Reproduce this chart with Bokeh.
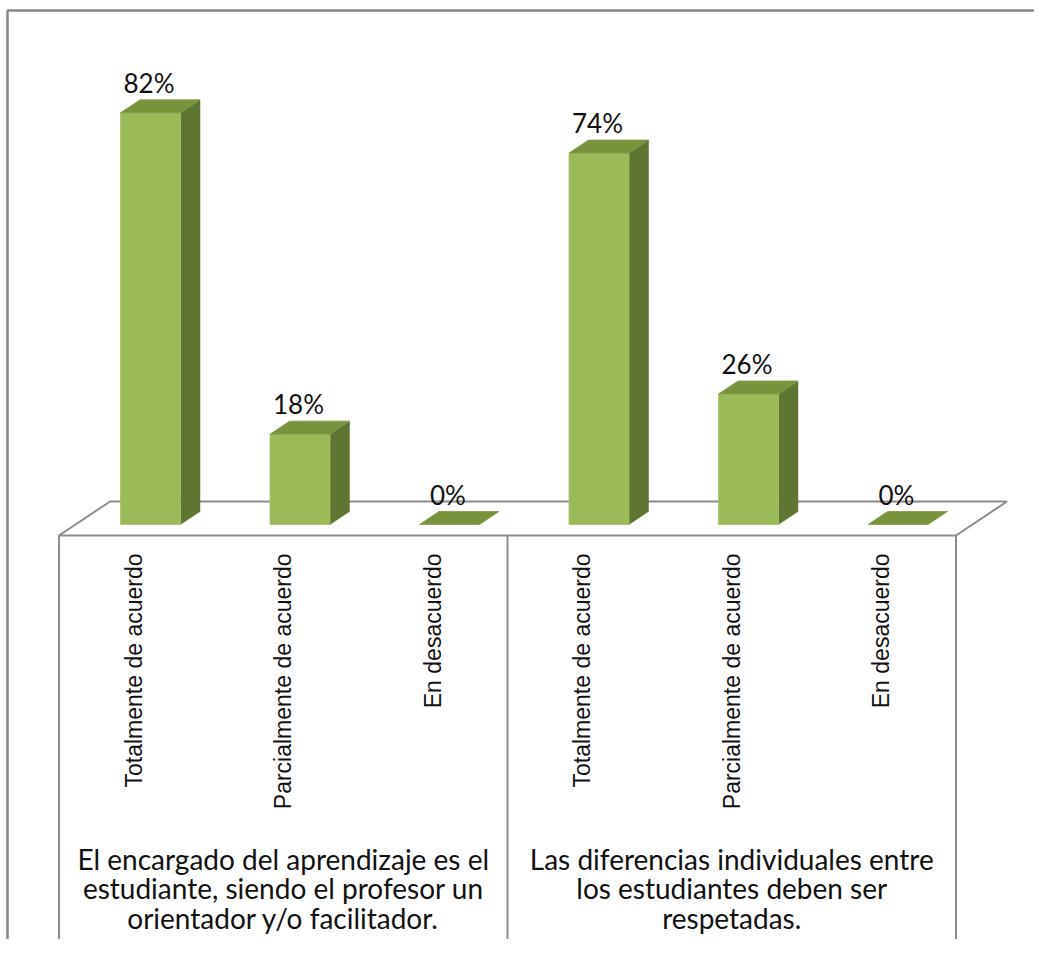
import math
from bokeh.plotting import figure
from bokeh.models import Range1d
from bokeh.core.properties import value
from bokeh.embed import file_html
from bokeh.resources import INLINE

# ---- data ----
categories = ["Totalmente de acuerdo", "Parcialmente de acuerdo", "En desacuerdo",
              "Totalmente de acuerdo", "Parcialmente de acuerdo", "En desacuerdo"]
values = [82, 18, 0, 74, 26, 0]
labels = ["82%", "18%", "0%", "74%", "26%", "0%"]
groups = ["El encargado del aprendizaje es el\nestudiante, siendo el profesor un\norientador y/o facilitador.",
          "Las diferencias individuales entre\nlos estudiantes deben ser\nrespetadas."]
group_size = 3

# ---- layout (pixels) ----
W, H = 1034, 939
STEP = 149.5          # px per category
PXV = 5.02            # px per percent
X0 = 58.5             # px of category start (front plane)
Y0 = 524.0            # px of value 0 (front baseline)

def ux(px):  # pixels -> x units
    return px / STEP

def uy(px):
    return px / PXV

x_start = -X0 / STEP
x_end = (W - X0) / STEP
y_end = Y0 / PXV
y_start = -(H - Y0) / PXV

p = figure(width=W, height=H, output_backend="svg", toolbar_location=None,
           x_range=Range1d(x_start, x_end), y_range=Range1d(y_start, y_end),
           min_border=0)
p.axis.visible = False
p.grid.visible = False
p.outline_line_color = None
p.background_fill_color = "white"

GRAY = "#8c8c8c"
n = len(values)

# outer chart border (top and left)
p.line([x_start + ux(7), x_start + ux(7), x_end], [y_start, y_end - uy(10), y_end - uy(10)],
       line_color="#878787", line_width=2.5)

# floor
floor_y = -uy(11)
fdx, fdy = ux(51), uy(34)
p.patch([0, n, n + fdx, fdx], [floor_y, floor_y, floor_y + fdy, floor_y + fdy],
        fill_color="white", line_color=GRAY, line_width=2)

# category table lines
bottom_y = -uy(416)
for xg in range(0, n + 1, group_size):
    p.line([xg, xg], [floor_y, bottom_y], line_color=GRAY, line_width=2)

# bars
bw = ux(60)
boff = ux(61.5)
bdx, bdy = ux(19.5), uy(13)
fronts_x, fronts_y, sides_x, sides_y, tops_x, tops_y = [], [], [], [], [], []
for i, v in enumerate(values):
    xl = i + boff
    xr = xl + bw
    if v > 0:
        fronts_x.append([xl, xr, xr, xl]); fronts_y.append([0, 0, v, v])
        sides_x.append([xr, xr + bdx, xr + bdx, xr]); sides_y.append([0, bdy, v + bdy, v])
    tops_x.append([xl, xr, xr + bdx, xl + bdx]); tops_y.append([v, v, v + bdy, v + bdy])

p.patches(sides_x, sides_y, fill_color="#5f7532", line_color="#5f7532", line_width=0.5)
p.patches(fronts_x, fronts_y, fill_color="#9bbb59", line_color="#a4c263", line_width=0.8)
p.patches(tops_x, tops_y, fill_color="#77933c", line_color="#7f9b45", line_width=0.8)

# data labels
lx = [i + boff + bw / 2 - ux(1.5) for i in range(n)]
ly = [v + bdy for v in values]
p.text(lx, ly, text=labels, text_align="center", text_baseline="alphabetic",
       y_offset=-17, text_font=value("Lato"), text_font_size="26px", text_color="#111111")

# rotated category labels
cx = [i + 0.5 for i in range(n)]
cy = [-uy(29)] * n
p.text(cx, cy, text=categories, angle=math.pi / 2, text_align="right", text_baseline="middle",
       text_font=value("Liberation Sans"), text_font_size="23px", text_color="#111111")

# group labels (anchored at the middle line)
gx = [g * group_size + group_size / 2 for g in range(len(groups))]
gy = [-uy(888 - Y0)] * len(groups)
p.text(gx, gy, text=groups, text_align="center", text_baseline="middle",
       text_font=value("Lato"), text_font_size="28px", text_color="#111111",
       text_line_height=0.88)

open("out.html", "w").write(file_html(p, INLINE))
